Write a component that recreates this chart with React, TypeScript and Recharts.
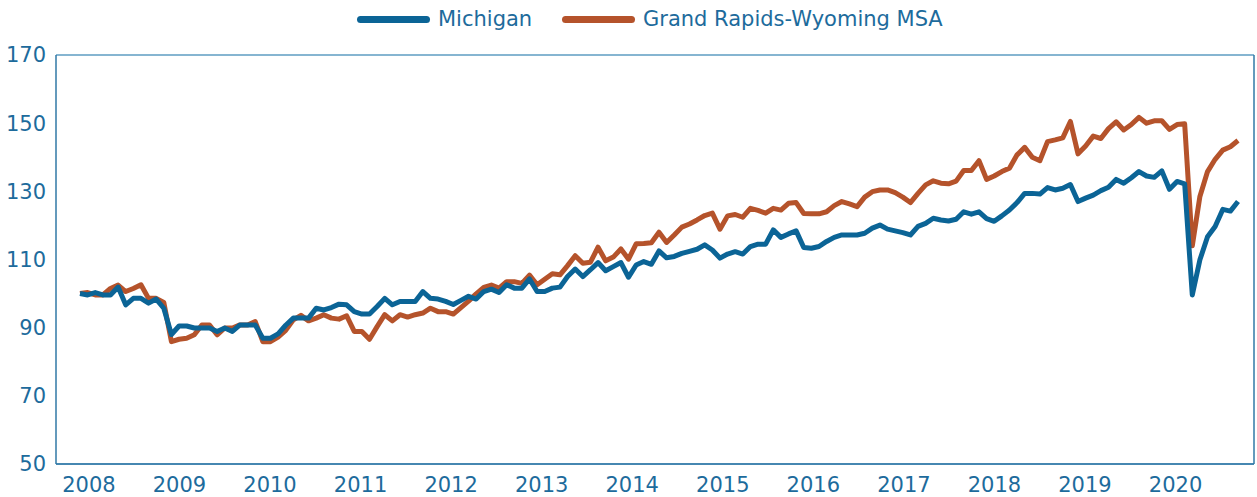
import { LineChart, Line, XAxis, YAxis, CartesianGrid, Legend } from "recharts"

const years = ["2008", "2009", "2010", "2011", "2012", "2013", "2014", "2015", "2016", "2017", "2018", "2019", "2020"]

const yTicks = [50, 70, 90, 110, 130, 150, 170]

// monthly index values, Jan 2008 = 100
const michigan = [
  100, 99.6, 100.3, 99.6, 99.6, 101.9, 96.7, 98.6, 98.6, 97.2, 98.4, 95.7,
  88, 90.5, 90.5, 89.9, 89.9, 89.9, 88.9, 89.9, 88.9, 90.8, 90.8, 90.8,
  86.9, 86.9, 88.2, 90.7, 92.8, 92.8, 92.8, 95.7, 95.2, 95.9, 96.9, 96.7,
  94.7, 94, 94, 96.2, 98.6, 96.7, 97.7, 97.7, 97.7, 100.6, 98.6, 98.4,
  97.7, 96.8, 98, 99.2, 98.4, 100.6, 101.3, 100.3, 102.6, 101.6, 101.6, 104.3,
  100.6, 100.6, 101.6, 101.9, 105, 107.2, 105, 107, 109.1, 106.7, 107.9, 109.1,
  104.8, 108.4, 109.4, 108.6, 112.5, 110.5, 110.9, 111.8, 112.4, 113, 114.3, 112.8,
  110.4, 111.6, 112.3, 111.6, 113.8, 114.5, 114.5, 118.7, 116.5, 117.5, 118.4, 113.5,
  113.3, 113.8, 115.3, 116.5, 117.2, 117.2, 117.2, 117.7, 119.2, 120.1, 118.9, 118.4,
  117.9, 117.2, 119.7, 120.6, 122.1, 121.6, 121.3, 121.8, 124, 123.3, 124, 122,
  121.2, 122.8, 124.5, 126.7, 129.4, 129.4, 129.2, 131.1, 130.4, 130.9, 132, 127,
  128, 128.9, 130.2, 131.2, 133.5, 132.4, 134, 135.8, 134.5, 134.1, 136, 130.6,
  132.9, 132.2, 99.6, 109.9, 116.7, 119.7, 124.7, 124.2, 127,
]

const grandRapids = [
  100, 100.3, 99.6, 99.6, 101.5, 102.5, 100.6, 101.5, 102.6, 98.6, 98.6, 97.4,
  85.9, 86.6, 86.9, 87.9, 90.8, 90.8, 87.9, 89.9, 89.9, 90.8, 90.8, 91.8,
  85.9, 85.9, 87.2, 89.2, 92.3, 93.6, 92, 92.8, 93.8, 92.8, 92.5, 93.5,
  88.9, 88.9, 86.6, 90.3, 93.8, 92, 93.8, 93.1, 93.8, 94.3, 95.7, 94.7,
  94.7, 94, 95.9, 97.8, 99.9, 101.8, 102.5, 101.6, 103.5, 103.5, 103, 105.4,
  102.6, 104.2, 105.8, 105.5, 108.2, 111.1, 108.9, 109.2, 113.6, 109.6, 110.7, 113.1,
  110.1, 114.6, 114.7, 114.9, 118, 115, 117.2, 119.5, 120.4, 121.6, 122.9, 123.6,
  118.9, 122.8, 123.2, 122.4, 125, 124.4, 123.6, 125, 124.5, 126.5, 126.7, 123.5,
  123.4, 123.4, 124, 125.8, 127, 126.3, 125.5, 128.3, 129.9, 130.4, 130.4, 129.6,
  128.3, 126.7, 129.4, 131.9, 133.1, 132.4, 132.2, 133, 136.1, 136.1, 139, 133.5,
  134.5, 135.8, 136.8, 140.7, 142.9, 140, 139, 144.6, 145.1, 145.7, 150.5, 141,
  143.3, 146.2, 145.5, 148.4, 150.4, 148, 149.6, 151.7, 150, 150.7, 150.7, 148.2,
  149.6, 149.8, 114, 128.5, 135.8, 139.4, 142.1, 143.1, 144.9,
]

const data = michigan.map((v, i) => ({ i, michigan: v, grandRapids: grandRapids[i] }))

// year labels sit a little right of each January point
const xTicks = years.map((_, k) => 1.17 + k * 11.886)

const BLUE = "#0b6496"
const ORANGE = "#b5532b"
const TEXT = "#1d6b9c"
const GRID = "#5e9cc2"
const AXIS = "#3178a6"
const FONT = "DejaVu Sans"

function ChartLegend() {
  const line = { position: "absolute" as const, top: 16, width: 73, height: 7, borderRadius: 4 }
  const label = { position: "absolute" as const, top: 9, lineHeight: "21px", whiteSpace: "nowrap" as const }
  return (
    <div style={{ position: "relative", width: 1257, height: 40, fontFamily: FONT, fontSize: 21, color: TEXT }}>
      <span style={{ ...line, left: 357, background: BLUE }} />
      <span style={{ ...label, left: 438 }}>Michigan</span>
      <span style={{ ...line, left: 562, background: ORANGE }} />
      <span style={{ ...label, left: 643 }}>Grand Rapids-Wyoming MSA</span>
    </div>
  )
}

export default function App() {
  return (
    <div style={{ position: "absolute", left: 0, top: 0, width: 1257, height: 497, background: "#fff" }}>
      <LineChart width={1257} height={497} data={data} margin={{ top: 15, right: 0, bottom: 0, left: 0 }}>
        <Legend verticalAlign="top" align="left" height={40} wrapperStyle={{ top: 0, left: 0, width: 1257 }} content={() => <ChartLegend />} />
        <CartesianGrid vertical={false} stroke={GRID} strokeWidth={1.5} />
        <XAxis
          type="number"
          dataKey="i"
          domain={[0, 152]}
          ticks={xTicks}
          interval={0}
          tickFormatter={(_v: number, idx: number) => years[idx]}
          padding={{ left: 24, right: 16 }}
          height={33}
          tickLine={false}
          tickMargin={7}
          axisLine={{ stroke: AXIS, strokeWidth: 1.5 }}
          tick={{ fill: TEXT, fontSize: 21, fontFamily: FONT }}
        />
        <YAxis
          yAxisId="left"
          domain={[50, 170]}
          ticks={yTicks}
          width={56}
          tickLine={false}
          tickMargin={4}
          axisLine={{ stroke: AXIS, strokeWidth: 1.5 }}
          tick={{ fill: TEXT, fontSize: 21, fontFamily: FONT }}
        />
        <YAxis yAxisId="right" orientation="right" domain={[50, 170]} ticks={yTicks} width={3} tick={false} tickLine={false} axisLine={{ stroke: AXIS, strokeWidth: 1.5 }} />
        <Line yAxisId="left" type="linear" dataKey="grandRapids" name="Grand Rapids-Wyoming MSA" stroke={ORANGE} strokeWidth={5} dot={false} strokeLinejoin="round" isAnimationActive={false} />
        <Line yAxisId="left" type="linear" dataKey="michigan" name="Michigan" stroke={BLUE} strokeWidth={5} dot={false} strokeLinejoin="round" isAnimationActive={false} />
      </LineChart>
    </div>
  )
}
